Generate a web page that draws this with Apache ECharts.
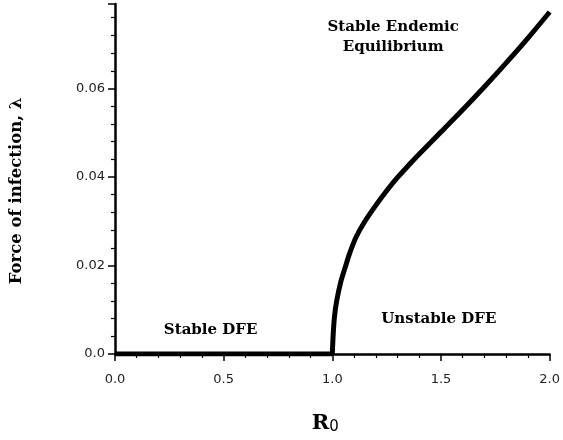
<!DOCTYPE html>
<html>
<head>
<meta charset="utf-8">
<script src="https://cdn.jsdelivr.net/npm/echarts@6/dist/echarts.min.js"></script>
<style>
  html, body { margin: 0; padding: 0; background: #fff; }
  #chart { width: 563px; height: 440px; }
</style>
</head>
<body>
<div id="chart"></div>
<script>
// Endemic branch: force of infection vs basic reproduction number
const endemicR0 = [1.0, 1.004, 1.01, 1.02, 1.04, 1.06, 1.08, 1.11, 1.15, 1.2, 1.25, 1.3, 1.35, 1.4, 1.5, 1.6, 1.7, 1.8, 1.9, 2.0];
const endemicLambda = [0, 0.0045, 0.0085, 0.012, 0.0165, 0.0197, 0.0228, 0.0265, 0.030, 0.0336, 0.0369, 0.0399, 0.0426, 0.0452, 0.0502, 0.0552, 0.0604, 0.0658, 0.0714, 0.0773];

// Disease-free equilibrium (lambda = 0), stable for R0 < 1
const dfeR0 = [0, 1.0];
const dfeLambda = [0, 0];

// Axis ticks
const xTicks = [0.0, 0.5, 1.0, 1.5, 2.0];
const yTicks = [0.0, 0.02, 0.04, 0.06];

// Region annotations: [text, R0, lambda]
const regionText = ['Stable Endemic\nEquilibrium', 'Stable DFE', 'Unstable DFE'];
const regionR0 = [1.28, 0.44, 1.49];
const regionLambda = [0.0717, 0.0054, 0.0079];

const serif = '"DejaVu Serif", "Liberation Serif", serif';
const sans = '"DejaVu Sans", "Liberation Sans", sans-serif';

const chart = echarts.init(document.getElementById('chart'), null, { renderer: 'canvas' });

const axisCommon = {
  axisLine: { show: true, onZero: false, lineStyle: { color: '#000', width: 2.5 } },
  axisTick: { show: true, inside: false, length: 7, lineStyle: { color: '#000', width: 1.5 } },
  minorTick: { show: true, splitNumber: 5, length: 4, lineStyle: { color: '#000', width: 1.2 } },
  splitLine: { show: false },
  minorSplitLine: { show: false }
};

chart.setOption({
  animation: false,
  backgroundColor: '#fff',
  grid: { left: 112, right: 11, top: 4, bottom: 84, containLabel: false },
  xAxis: Object.assign({
    type: 'value',
    min: xTicks[0],
    max: xTicks[xTicks.length - 1],
    interval: 0.5,
    name: '{r|R}{s|0}',
    nameLocation: 'middle',
    nameGap: 58,
    nameTextStyle: {
      padding: [0, 14, 0, 0],
      rich: {
        r: { fontFamily: serif, fontWeight: 'bold', fontSize: 21, color: '#000' },
        s: { fontFamily: sans, fontSize: 15, color: '#000', verticalAlign: 'bottom', padding: [8, 0, 0, 0] }
      }
    },
    axisLabel: {
      margin: 19,
      fontFamily: sans,
      fontSize: 13,
      color: '#222',
      formatter: v => v.toFixed(1)
    }
  }, axisCommon),
  yAxis: Object.assign({
    type: 'value',
    min: yTicks[0],
    max: 0.0791,
    interval: 0.02,
    name: 'Force of infection, λ',
    nameLocation: 'middle',
    nameGap: 90,
    nameTextStyle: { fontFamily: serif, fontWeight: 'bold', fontSize: 16.5, color: '#000', padding: [0, 24, 0, 0] },
    axisLabel: {
      margin: 10,
      fontFamily: sans,
      fontSize: 13,
      color: '#222',
      showMaxLabel: false,
      formatter: v => (v === 0 ? '0.0' : v.toFixed(2))
    }
  }, axisCommon),
  series: [
    {
      name: 'Stable DFE',
      type: 'line',
      data: dfeR0.map((r, i) => [r, dfeLambda[i]]),
      showSymbol: false,
      lineStyle: { color: '#000', width: 5 },
      z: 3
    },
    {
      name: 'Endemic equilibrium',
      type: 'line',
      data: endemicR0.map((r, i) => [r, endemicLambda[i]]),
      smooth: 0.3,
      showSymbol: false,
      lineStyle: { color: '#000', width: 5 },
      z: 3
    }
  ]
});

// Region labels placed in data coordinates
chart.setOption({
  graphic: regionText.map((t, i) => {
    const p = chart.convertToPixel({ gridIndex: 0 }, [regionR0[i], regionLambda[i]]);
    return {
      type: 'text',
      x: p[0],
      y: p[1],
      style: {
        text: t,
        fontFamily: serif,
        fontWeight: 'bold',
        fontSize: 15,
        lineHeight: 20,
        fill: '#000',
        align: 'center',
        verticalAlign: 'middle'
      },
      z: 10
    };
  })
});
</script>
</body>
</html>
